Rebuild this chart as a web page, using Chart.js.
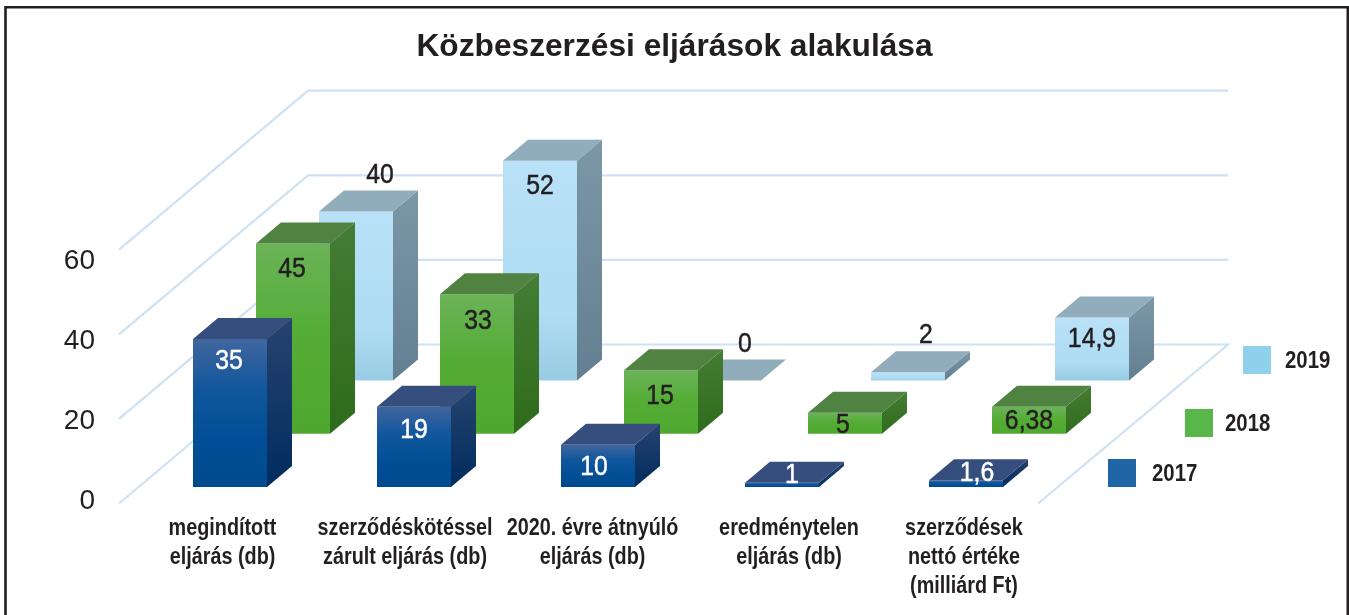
<!DOCTYPE html>
<html lang="hu">
<head>
<meta charset="utf-8">
<title>Közbeszerzési eljárások alakulása</title>
<script src="https://cdn.jsdelivr.net/npm/chart.js@4"></script>
<style>html,body{margin:0;padding:0;background:#fff}canvas{display:block}</style>
</head>
<body>
<canvas id="c" width="1349" height="615"></canvas>
<script>
const chartTitle = 'Közbeszerzési eljárások alakulása';
const categories = [
  ['megindított', 'eljárás (db)'],
  ['szerződéskötéssel', 'zárult eljárás (db)'],
  ['2020. évre átnyúló', 'eljárás (db)'],
  ['eredménytelen', 'eljárás (db)'],
  ['szerződések', 'nettó értéke', '(milliárd Ft)']
];
const values2017 = [35, 19, 10, 1, 1.6];
const values2018 = [45, 33, 15, 5, 6.38];
const values2019 = [40, 52, 0, 2, 14.9];
const yTickValues = [0, 20, 40, 60];

const INK = '#231f20';
const SANS = '"Liberation Sans",Arial,sans-serif';
const GRID = '#cfe2f4';
const FACE = {
  2017: {front: [[0,'#41669f'],[.35,'#10569c'],[.7,'#014e96'],[1,'#004a8e']], side: ['#27436f','#002c5e'], top: '#354e7e', swatch: '#1f66a7', text: '#ffffff'},
  2018: {front: [[0,'#6bb358'],[.45,'#55ad37'],[1,'#4ea72e']], side: ['#447d34','#2f6b1c'], top: '#508341', swatch: '#57b849', text: INK},
  2019: {front: [[0,'#b9e1f7'],[.7,'#aedcf3'],[1,'#98cbe3']], side: ['#7c97a6','#647f91'], top: '#91acba', swatch: '#8fd1ea', text: INK}
};
const ROW_STEP = {dx: 63, dy: -53.2};
const BOX_DEPTH = {dx: 25, dy: -21};
const AXIS_SQUEEZE = 0.825;
const VALUE_SQUEEZE = 0.87;
const LABEL_NUDGE = [-7.5, -9, -5.5, 7, -2];
const LEGEND_POS = {2017: [1108, 459, 1152], 2018: [1185, 409, 1225], 2019: [1243, 346, 1285]};
// value label offset from the middle of the front face's upper edge
const VALUE_OFFSET = {
  2017: [[-1,21],[0,23],[-4,21],[10,-9],[11,-8]],
  2018: [[-1,25],[1,26],[-1,25],[-2,11],[0,13]],
  2019: [[24,-37],[0,25],[21,-37],[18,-38],[0,21]]
};

function fillPoly(ctx, pts, style) {
  ctx.beginPath();
  pts.forEach((p, i) => i ? ctx.lineTo(p[0], p[1]) : ctx.moveTo(p[0], p[1]));
  ctx.closePath();
  ctx.fillStyle = style;
  ctx.fill();
}
function vGrad(ctx, y0, y1, stops) {
  const g = ctx.createLinearGradient(0, y0, 0, Math.max(y1, y0 + 1));
  stops.forEach(s => g.addColorStop(s[0], s[1]));
  return g;
}
function rowOffset(index) { return {dx: ROW_STEP.dx * index, dy: ROW_STEP.dy * index}; }
function squeezedText(ctx, text, x, y, sx, weight) {
  ctx.save();
  ctx.translate(x, y);
  ctx.scale(sx, 1);
  ctx.fillText(text, 0, 0);
  if (weight) {
    ctx.strokeStyle = ctx.fillStyle;
    ctx.lineWidth = weight;
    ctx.strokeText(text, 0, 0);
  }
  ctx.restore();
}

const box3d = {
  id: 'box3d',
  afterUpdate(chart) {
    const sx = chart.scales.x;
    sx.getLabelItems().forEach((it, i) => {
      it.options.translation[0] = (it.options.translation[0] + LABEL_NUDGE[i]) / AXIS_SQUEEZE;
    });
    const proto = Object.getPrototypeOf(sx);
    sx.drawLabels = function (area) {
      const ctx = this.ctx;
      ctx.save();
      ctx.scale(AXIS_SQUEEZE, 1);
      proto.drawLabels.call(this, area);
      ctx.restore();
    };
  },
  beforeDraw(chart) {
    const {ctx, width} = chart;
    ctx.save();
    ctx.fillStyle = '#ffffff';
    ctx.fillRect(0, 0, width, chart.height);
    ctx.strokeStyle = INK;
    ctx.lineWidth = 2.6;
    ctx.beginPath();
    ctx.moveTo(5.5, chart.height);
    ctx.lineTo(5.5, 7.3);
    ctx.lineTo(1347.8, 7.3);
    ctx.lineTo(1347.8, chart.height);
    ctx.stroke();
    ctx.restore();
  },
  beforeDatasetsDraw(chart) {
    const {ctx, chartArea} = chart;
    const yb = chart.scales.yBars;
    const xBack = chartArea.left + 170, xFront = chartArea.left - 19;
    const xEnd = chartArea.right + 170, xEndFront = chartArea.right - 20;
    ctx.save();
    ctx.strokeStyle = GRID;
    ctx.lineWidth = 2.2;
    yTickValues.forEach(v => {
      const y = yb.getPixelForValue(v);
      ctx.beginPath();
      ctx.moveTo(xFront, y + 16.5);
      ctx.lineTo(xBack, y - 142.5);
      ctx.lineTo(xEnd, y - 142.5);
      if (v === 0) ctx.lineTo(xEndFront, y + 16.5);
      ctx.stroke();
    });
    ctx.restore();
  },
  beforeDatasetDraw(chart, args) {
    const {ctx} = chart;
    const ds = chart.data.datasets[args.index];
    const st = FACE[ds.label];
    const off = rowOffset(args.index);
    const d = BOX_DEPTH;
    ctx.save();
    args.meta.data.forEach(el => {
      const w = el.width;
      const l = el.x - w / 2 + off.dx, r = el.x + w / 2 + off.dx;
      const t = el.y + off.dy, b = el.base + off.dy;
      if (b - t > 0.01) {
        fillPoly(ctx, [[r,t],[r+d.dx,t+d.dy],[r+d.dx,b+d.dy],[r,b]], vGrad(ctx, t+d.dy, b, [[0,st.side[0]],[1,st.side[1]]]));
        fillPoly(ctx, [[l,t],[r,t],[r,b],[l,b]], vGrad(ctx, t, b, st.front));
      }
      fillPoly(ctx, [[l,t],[r,t],[r+d.dx,t+d.dy],[l+d.dx,t+d.dy]], st.top);
    });
    ctx.restore();
    return false;
  },
  afterDatasetsDraw(chart) {
    const {ctx} = chart;
    ctx.save();
    ctx.textBaseline = 'middle';
    for (let i = chart.data.datasets.length - 1; i >= 0; i--) {
      const ds = chart.data.datasets[i];
      const off = rowOffset(i);
      const st = FACE[ds.label];
      ctx.textAlign = 'center';
      ctx.font = '28.5px ' + SANS;
      chart.getDatasetMeta(i).data.forEach((el, j) => {
        const o = VALUE_OFFSET[ds.label][j];
        ctx.fillStyle = st.text;
        squeezedText(ctx, String(ds.data[j]).replace('.', ','), el.x + off.dx + o[0], el.y + off.dy + o[1] + 1, VALUE_SQUEEZE, 0.5);
      });
      const lp = LEGEND_POS[ds.label];
      ctx.fillStyle = st.swatch;
      ctx.fillRect(lp[0], lp[1], 28, 28);
      ctx.textAlign = 'left';
      ctx.font = 'bold 24px ' + SANS;
      ctx.fillStyle = INK;
      squeezedText(ctx, ds.label, lp[2], lp[1] + 15.5, 0.85);
    }
    ctx.restore();
  }
};

new Chart(document.getElementById('c'), {
  type: 'bar',
  data: {
    labels: categories,
    datasets: [
      {label: '2017', data: values2017, yAxisID: 'yBars', backgroundColor: FACE[2017].swatch},
      {label: '2018', data: values2018, yAxisID: 'yBars', backgroundColor: FACE[2018].swatch},
      {label: '2019', data: values2019, yAxisID: 'yBars', backgroundColor: FACE[2019].swatch}
    ]
  },
  plugins: [box3d],
  options: {
    responsive: false,
    animation: false,
    events: [],
    datasets: {bar: {grouped: false, barThickness: 74}},
    plugins: {
      legend: {display: false},
      tooltip: {enabled: false},
      title: {
        display: true,
        text: chartTitle,
        color: INK,
        font: {family: SANS, size: 31.7, weight: 'bold', lineHeight: 1.2},
        padding: {top: 28, bottom: 25}
      }
    },
    scales: {
      x: {
        grid: {display: false, drawTicks: false},
        border: {display: false},
        afterFit(s) { s.height = 112; },
        ticks: {
          color: INK,
          maxRotation: 0,
          autoSkip: false,
          padding: 10.5,
          font: {family: SANS, size: 24, weight: 'bold', lineHeight: 1.21}
        }
      },
      y: {
        position: 'left',
        min: -0.5,
        max: 102.5,
        grid: {display: false, drawTicks: false},
        border: {display: false},
        afterFit(s) { s.width = 138; },
        afterBuildTicks(s) { s.ticks = yTickValues.map(v => ({value: v})); },
        ticks: {
          color: INK,
          padding: 43,
          font: {family: SANS, size: 28},
          callback: v => String(v)
        }
      },
      yBars: {
        display: false,
        position: 'left',
        min: -3.78,
        max: 93.6
      },
      rightMargin: {
        display: true,
        position: 'right',
        grid: {display: false, drawTicks: false},
        border: {display: false},
        ticks: {display: false},
        afterFit(s) { s.width = 291; }
      }
    }
  }
});
</script>
</body>
</html>
